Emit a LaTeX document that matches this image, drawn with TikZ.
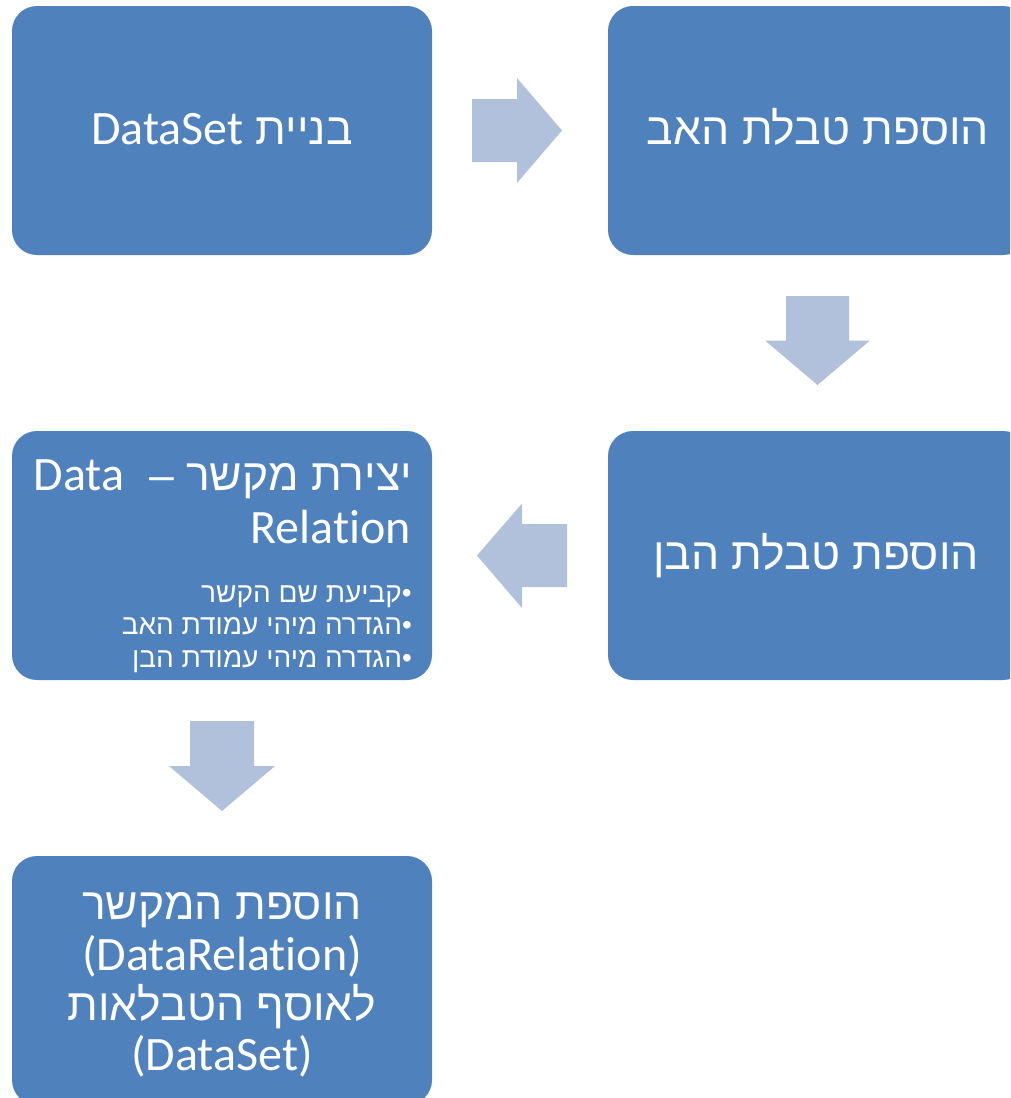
\documentclass[tikz,border=0pt]{standalone}
\usepackage{fontspec}
\setmainfont{Carlito}[Ligatures=NoCommon]
\newfontfamily\heb[Script=Hebrew]{Liberation Sans}
\newfontfamily\lat[Ligatures=NoCommon]{Carlito}
\TeXXeTstate=1
\definecolor{boxblue}{HTML}{4F81BD}
\definecolor{arrowblue}{HTML}{B2C1DB}
\newcommand{\latbig}{\lat\fontsize{48}{50}\selectfont}
\begin{document}
\begin{tikzpicture}[x=1pt,y=-1pt,
  stepbox/.style={fill=boxblue, rounded corners=25pt, minimum width=420pt, minimum height=249pt, inner sep=0pt, draw=none},
  blockarrow/.style={fill=arrowblue, draw=none},
  bigtext/.style={text=white, inner sep=0pt, font=\fontsize{44.5}{50}\selectfont},
  smalltext/.style={text=white, inner sep=0pt, font=\fontsize{28}{33}\selectfont}]
\useasboundingbox (0,0) rectangle (1010,1098);
\clip (0,0) rectangle (1010,1098);
% boxes
\node[stepbox] (b1) at (222,130.5) {};
\node[stepbox] (b2) at (818,130.5) {};
\node[stepbox] (b3) at (818,555.5) {};
\node[stepbox] (b4) at (222,555.5) {};
\node[stepbox] (b5) at (222,980.5) {};
% block arrows (connectors)
\coordinate (m1) at (517,130.5);
\coordinate (m2) at (817.5,340.5);
\coordinate (m3) at (522,555.5);
\coordinate (m4) at (222,766);
\fill[blockarrow] ([shift={(-45,-31.5)}]m1) -- ([shift={(0,-31.5)}]m1) -- ([shift={(0,-52.5)}]m1) -- ([shift={(45,0)}]m1) -- ([shift={(0,52.5)}]m1) -- ([shift={(0,31.5)}]m1) -- ([shift={(-45,31.5)}]m1) -- cycle;
\fill[blockarrow] ([shift={(-31.5,-44.5)}]m2) -- ([shift={(31.5,-44.5)}]m2) -- ([shift={(31.5,0)}]m2) -- ([shift={(52.5,0)}]m2) -- ([shift={(0,44.5)}]m2) -- ([shift={(-52.5,0)}]m2) -- ([shift={(-31.5,0)}]m2) -- cycle;
\fill[blockarrow] ([shift={(45,-31.5)}]m3) -- ([shift={(0,-31.5)}]m3) -- ([shift={(0,-52)}]m3) -- ([shift={(-45,0)}]m3) -- ([shift={(0,52.5)}]m3) -- ([shift={(0,31.5)}]m3) -- ([shift={(45,31.5)}]m3) -- cycle;
\fill[blockarrow] ([shift={(-32,-45)}]m4) -- ([shift={(32,-45)}]m4) -- ([shift={(32,0)}]m4) -- ([shift={(53,0)}]m4) -- ([shift={(0,45)}]m4) -- ([shift={(-53,0)}]m4) -- ([shift={(-32,0)}]m4) -- cycle;
% texts
\node[bigtext, anchor=base] (t1) at (222,144) {\heb\beginR בניית {\latbig\beginL DataSet\endL}\endR};
\node[bigtext, anchor=base] (t2) at (818,144) {\heb\beginR הוספת טבלת האב\endR};
\node[bigtext, anchor=base] (t3) at (816,569) {\heb\beginR הוספת טבלת הבן\endR};
\node[bigtext, anchor=base east] (t4a) at (412,490) {\heb\beginR יצירת מקשר –\ \ {\latbig\beginL Data\endL}\endR};
\node[bigtext, anchor=base east] (t4b) at (411,543) {\latbig Relation};
\node[smalltext, anchor=base east] (t4c) at (412,602) {\heb\beginR •קביעת שם הקשר\endR};
\node[smalltext, anchor=base east] (t4d) at (412,634) {\heb\beginR •הגדרה מיהי עמודת האב\endR};
\node[smalltext, anchor=base east] (t4e) at (412,667) {\heb\beginR •הגדרה מיהי עמודת הבן\endR};
\node[bigtext, anchor=base] (t5a) at (222,919) {\heb\beginR הוספת המקשר\endR};
\node[bigtext, anchor=base] (t5b) at (222,970) {\latbig (DataRelation)};
\node[bigtext, anchor=base] (t5c) at (222,1020) {\heb\beginR לאוסף הטבלאות\endR};
\node[bigtext, anchor=base] (t5d) at (222,1070) {\latbig (DataSet)};
\end{tikzpicture}
\end{document}
